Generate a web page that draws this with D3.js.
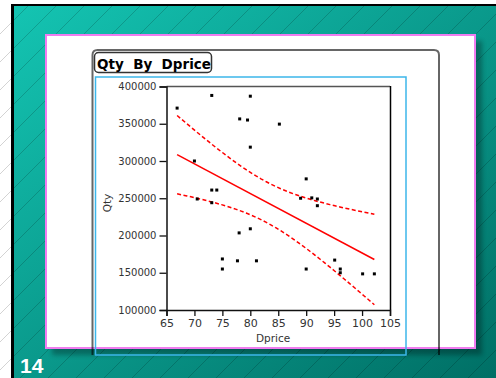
<!DOCTYPE html>
<html>
<head>
<meta charset="utf-8">
<script src="https://cdn.jsdelivr.net/npm/d3@7"></script>
<style>
body{margin:0;padding:0;background:#fff;}
svg{display:block;}
</style>
</head>
<body>
<svg id="chart"></svg>
<script>
// Dprice values (x)
var dprice=[66.9,73.1,70.0,73.1,74.0,70.5,73.1,78.1,79.5,80.0,80.0,85.2,90.0,89.0,91.0,92.0,92.0,
  75.0,75.0,77.7,81.1,78.0,80.0,90.0,95.1,96.1,96.1,100.1,102.2];
// Qty values (y)
var qty=[371000,388000,300000,261000,261000,249000,244000,356500,355000,387000,318600,349500,276000,250000,250500,249000,240000,
  168500,155000,166000,166000,203500,209000,155000,167000,155000,150000,148500,148500];
var xTicks=[65,70,75,80,85,90,95,100,105];
var yTicks=[100000,150000,200000,250000,300000,350000,400000];
var title="Qty  By  Dprice";
var slideNo="14";

var width=496, height=378;
var svg=d3.select("#chart").attr("width",width).attr("height",height);
var defs=svg.append("defs");

// slide background
var grad=defs.append("linearGradient").attr("id","bg")
  .attr("x1","0").attr("y1","0").attr("x2","1").attr("y2","1");
grad.append("stop").attr("offset","0").attr("stop-color","#14c4b2");
grad.append("stop").attr("offset","1").attr("stop-color","#006f65");
var blur=defs.append("filter").attr("id","shadow").attr("x","-10%").attr("y","-10%").attr("width","130%").attr("height","130%");
blur.append("feGaussianBlur").attr("stdDeviation",2.5);

svg.append("rect").attr("x",0).attr("y",0).attr("width",width).attr("height",height).attr("fill","#fff");
svg.append("rect").attr("x",14).attr("y",6).attr("width",width-14).attr("height",height-6).attr("fill","url(#bg)");
svg.append("g").selectAll("line")
  .data(d3.range(-400,560,28))
  .enter().append("line")
  .attr("x1",function(d){return d;})
  .attr("y1",378)
  .attr("x2",function(d){return d+372;})
  .attr("y2",6)
  .attr("stroke","#000").attr("stroke-opacity",0.22).attr("stroke-width",0.8);
svg.append("rect").attr("x",14).attr("y",6).attr("width",width-14).attr("height",height-6)
  .attr("fill","none");
// black frame left/top
svg.append("rect").attr("x",11).attr("y",4).attr("width",width-11).attr("height",2).attr("fill","#000");
svg.append("rect").attr("x",11).attr("y",4).attr("width",3).attr("height",height-4).attr("fill","#000");

// white box + shadow
svg.append("rect").attr("x",52).attr("y",41).attr("width",430).attr("height",314)
  .attr("fill","#000").attr("opacity",0.3).attr("filter","url(#shadow)");
svg.append("rect").attr("x",46).attr("y",35).attr("width",429).attr("height",313)
  .attr("fill","#fff").attr("stroke","#f07cf0").attr("stroke-width",2);

// slide number
svg.append("text").attr("x",20).attr("y",373).text(slideNo)
  .attr("font-family","Liberation Sans, Arial, sans-serif").attr("font-weight","bold")
  .attr("font-size",21).attr("fill","#fff");

// report panel
svg.append("path")
  .attr("d","M92.5,355 V55 Q92.5,50 97.5,50 H434 Q439,50 439,55 V355")
  .attr("fill","none").attr("stroke","#000").attr("stroke-opacity",0.6).attr("stroke-width",2);
svg.append("rect").attr("x",94.5).attr("y",52.5).attr("width",117).attr("height",20).attr("rx",4)
  .attr("fill","#fff").attr("stroke","#333").attr("stroke-width",1.5);
svg.append("text").attr("x",97).attr("y",68.5).text(title)
  .attr("xml:space","preserve").style("white-space","pre")
  .attr("font-family","DejaVu Sans, sans-serif").attr("font-weight","bold")
  .attr("font-size",13.5).attr("fill","#000");
svg.append("rect").attr("x",95.5).attr("y",77).attr("width",310.5).attr("height",278)
  .attr("fill","none").attr("stroke","#3cb6ea").attr("stroke-width",1.5);

// scales
var x=d3.scaleLinear().domain([65,105]).range([166.5,390]);
var y=d3.scaleLinear().domain([100000,400000]).range([310,86.5]);

// frame
svg.append("line").attr("x1",166.5).attr("x2",390).attr("y1",86.5).attr("y2",86.5)
  .attr("stroke","#555").attr("stroke-width",1.5);
svg.append("line").attr("x1",390.5).attr("x2",390.5).attr("y1",86).attr("y2",310)
  .attr("stroke","#000").attr("stroke-width",1.5);

var yAxis=svg.append("g").attr("transform","translate(166.5,0)")
  .call(d3.axisLeft(y).tickValues(yTicks).tickSize(7).tickPadding(3).tickFormat(d3.format("d")));
var xAxis=svg.append("g").attr("transform","translate(0,310)")
  .call(d3.axisBottom(x).tickValues(xTicks).tickSize(6).tickPadding(3));
[yAxis,xAxis].forEach(function(a){
  a.select(".domain").attr("stroke","#111").attr("stroke-width",1.5);
  a.selectAll(".tick line").attr("stroke","#111").attr("stroke-width",1.3);
  a.selectAll("text").attr("fill","#333").attr("font-family","DejaVu Sans, sans-serif");
});
yAxis.selectAll("text").attr("font-size",10);
xAxis.selectAll("text").attr("font-size",11);

svg.append("text").attr("x",273).attr("y",342).attr("text-anchor","middle").text("Dprice")
  .attr("font-family","DejaVu Sans, sans-serif").attr("font-size",10.5).attr("fill","#333");
svg.append("text").attr("transform","translate(111,203) rotate(-90)").attr("text-anchor","middle").text("Qty")
  .attr("font-family","DejaVu Sans, sans-serif").attr("font-size",10.5).attr("fill","#333");

// linear fit with 95% confidence curves
var n=dprice.length;
var mx=d3.mean(dprice), my=d3.mean(qty);
var sxx=d3.sum(dprice,function(d){return (d-mx)*(d-mx);});
var sxy=d3.sum(dprice,function(d,i){return (d-mx)*(qty[i]-my);});
var b=sxy/sxx, a=my-b*mx;
var sse=d3.sum(dprice,function(d,i){var r=qty[i]-(a+b*d);return r*r;});
var s=Math.sqrt(sse/(n-2));
var t=2.052; // t(0.975, 27)
var x0=d3.min(dprice), x1=d3.max(dprice);
var grid=d3.range(0,41).map(function(i){return x0+(x1-x0)*i/40;});
var half=function(d){return t*s*Math.sqrt(1/n+(d-mx)*(d-mx)/sxx);};

var line=d3.line().x(function(d){return x(d[0]);}).y(function(d){return y(d[1]);});
svg.append("path")
  .attr("d",line([[x0,a+b*x0],[x1,a+b*x1]]))
  .attr("fill","none").attr("stroke","#ff0000").attr("stroke-width",1.5);
svg.append("path")
  .attr("d",line(grid.map(function(d){return [d,a+b*d+half(d)];})))
  .attr("fill","none").attr("stroke","#ff0000").attr("stroke-width",1.5).attr("stroke-dasharray","4,2.5");
svg.append("path")
  .attr("d",line(grid.map(function(d){return [d,a+b*d-half(d)];})))
  .attr("fill","none").attr("stroke","#ff0000").attr("stroke-width",1.5).attr("stroke-dasharray","4,2.5");

// points
svg.append("g").selectAll("rect")
  .data(dprice)
  .enter()
  .append("rect")
  .attr("x",function(d){return x(d)-1.5;})
  .attr("y",function(d,i){return y(qty[i])-1.5;})
  .attr("width",3)
  .attr("height",3)
  .attr("fill","#000");
</script>
</body>
</html>
